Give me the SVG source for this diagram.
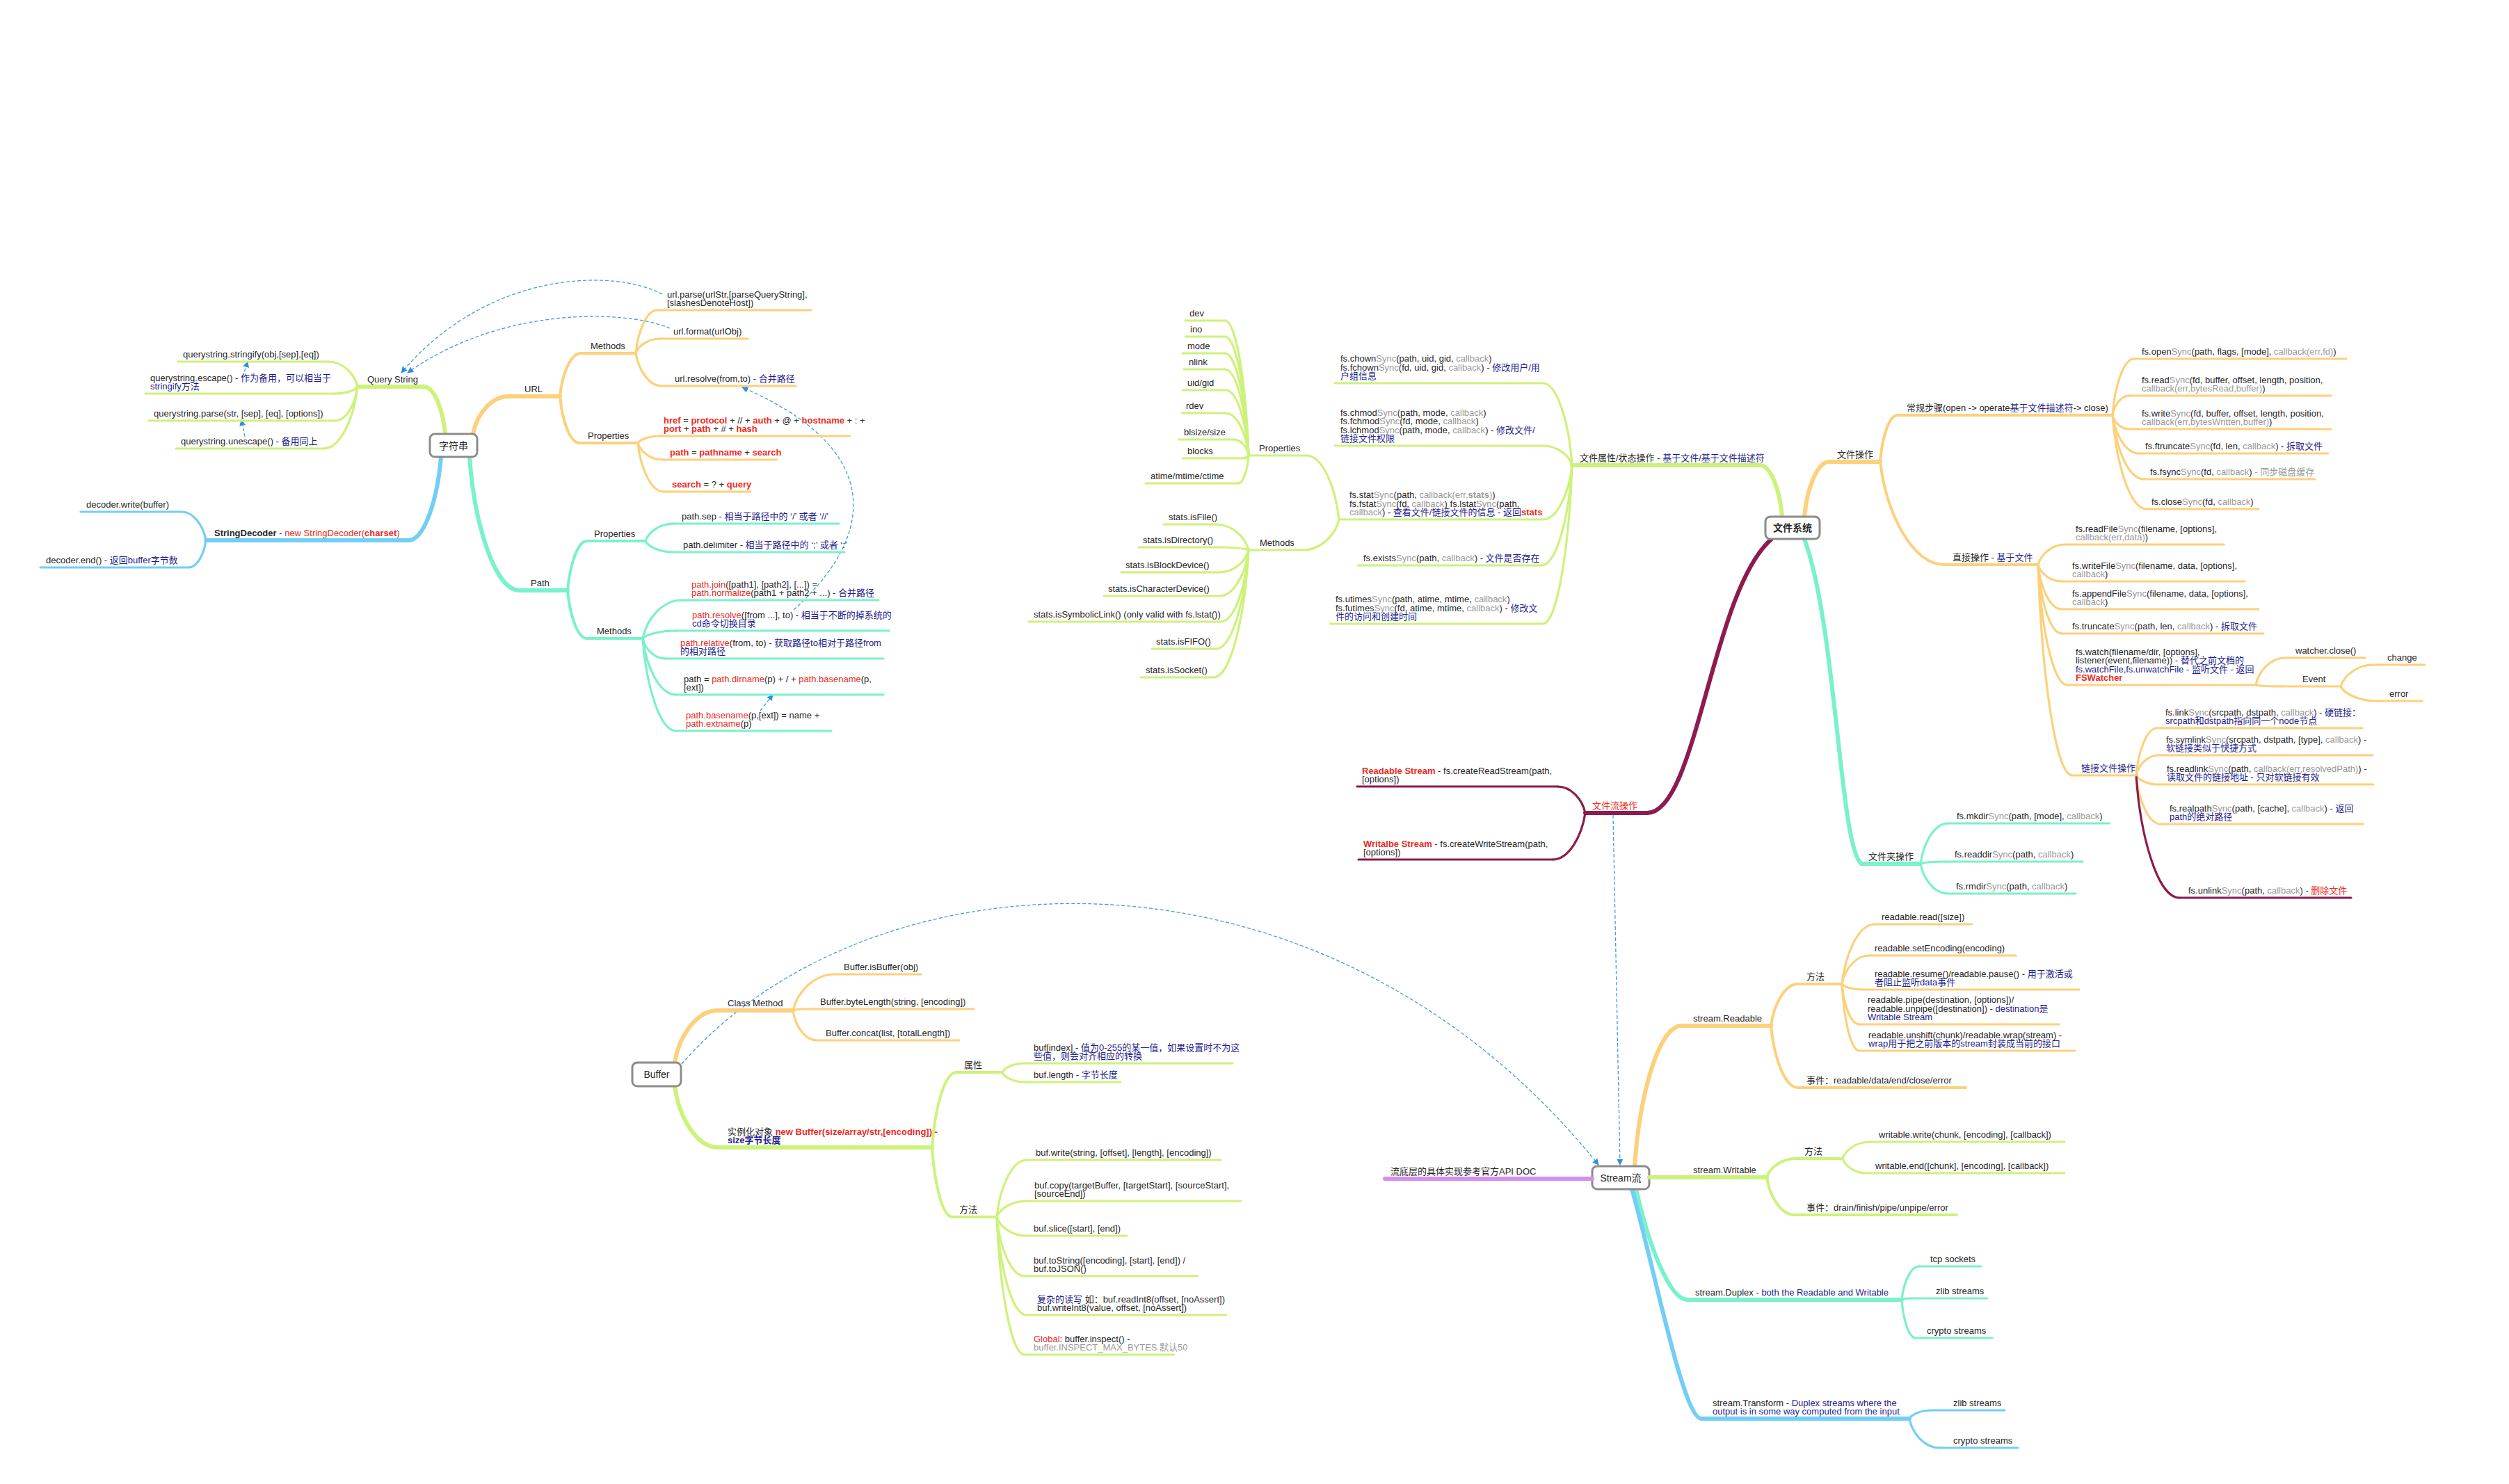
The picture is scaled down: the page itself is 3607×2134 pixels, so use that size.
<svg xmlns="http://www.w3.org/2000/svg" width="3607" height="2134" viewBox="0 0 3607 2134">
<style>
.t{font-family:"Liberation Sans","Noto Sans CJK SC",sans-serif;font-size:13px;fill:#262626}
.h{font-size:14px}
.n{fill:#1d1d8c}
.r{fill:#ee2a22}
.g{fill:#999}
.bd{font-weight:bold}
.ln{fill:none;stroke-linecap:round;stroke-linejoin:round}
.w1{stroke-width:6}
.w2{stroke-width:4}
.w3{stroke-width:3.2}
.gr{stroke:#cdf27a}
.or{stroke:#fdd07c}
.aq{stroke:#79f1cc}
.bl{stroke:#73cef5}
.mr{stroke:#8d1b4d}
.pu{stroke:#d48ff2}
.box{fill:#fff;stroke:#8c8c8c;stroke-width:3}
.ds{fill:none;stroke:#3d9be3;stroke-width:1.3;stroke-dasharray:5 3}
.ct{text-anchor:middle}
</style>
<defs>
<marker id="ar" viewBox="0 0 10 10" refX="9" refY="5" markerWidth="7" markerHeight="7" orient="auto"><path d="M0 0L10 5L0 10z" fill="#2f8fe0"/></marker>
</defs>
<rect width="3607" height="2134" fill="#fff"/>

<g id="connectors">
<!-- 字符串 -->
<path class="ln gr w1" d="M640 624 C637 590 624.5 556 609 556"/>
<path class="ln gr w3" d="M514 556 C510 538 493 520 472 520"/>
<path class="ln gr w3" d="M514 556 C511 561 498 566 482 566"/>
<path class="ln gr w3" d="M514 556 C511 580 498 605 482 605"/>
<path class="ln gr w3" d="M514 556 C509 600 490 645 465 645"/>
<path class="ln or w1" d="M680 624 C685 597 705.5 570 731 570"/>
<path class="ln or w2" d="M805 570 C808 539 820 508 835 508"/>
<path class="ln or w3" d="M914 508 C917 477 929.5 446 945 446"/>
<path class="ln or w3" d="M914 508 C917.5 497.5 931.5 487 949 487"/>
<path class="ln or w3" d="M914 508 C918 531.5 932.5 555 951 555"/>
<path class="ln or w2" d="M805 570 C808 603.5 819 637 833 637"/>
<path class="ln or w3" d="M917 637 C920 632 933.5 627 950 627"/>
<path class="ln or w3" d="M917 637 C920.5 649 934.5 661 952 661"/>
<path class="ln or w3" d="M917 637 C920.7 672 935.5 707 954 707"/>
<path class="ln bl w1" d="M634 657 C629 717 610.5 777 587 777"/>
<path class="ln bl w3" d="M296 777 C292.5 756.5 278.5 736 261 736"/>
<path class="ln bl w3" d="M296 777 C293.5 796.5 283.5 816 271 816"/>
<path class="ln aq w1" d="M675 657 C682 753 711 849 747 849"/>
<path class="ln aq w2" d="M816 849 C819 813.5 830 778 844 778"/>
<path class="ln aq w3" d="M928 778 C932 765.5 948 753 968 753"/>
<path class="ln aq w3" d="M928 778 C932 786 948 794 968 794"/>
<path class="ln aq w2" d="M816 849 C819 883.5 830 918 844 918"/>
<path class="ln aq w3" d="M924 918 C929.6 890.5 952 863 980 863"/>
<path class="ln aq w3" d="M924 918 C929 912.5 948 907 972 907"/>
<path class="ln aq w3" d="M924 918 C927 932.5 940 947 956 947"/>
<path class="ln aq w3" d="M924 918 C929 958.5 948 999 972 999"/>
<path class="ln aq w3" d="M924 918 C929 984.5 948 1051 972 1051"/>
<!-- 文件系统 -->
<path class="ln gr w1" d="M2562 743 C2559 706 2546 669 2530 669"/>
<path class="ln gr w3" d="M2260 669 C2256 610 2239 551 2218 551"/>
<path class="ln gr w3" d="M2260 669 C2256 655 2239 641 2218 641"/>
<path class="ln gr w3" d="M2260 669 C2256 708 2239 747 2218 747"/>
<path class="ln gr w3" d="M2260 669 C2256 741 2238 813 2216 813"/>
<path class="ln gr w3" d="M2260 669 C2256 783 2239 897 2218 897"/>
<path class="ln gr w3" d="M1925 747 C1920 701 1901.5 655 1878 655"/>
<path class="ln gr w3" d="M1795 655 C1791.6 558 1778 461 1761 461"/>
<path class="ln gr w3" d="M1795 655 C1791.6 569.5 1778 484 1761 484"/>
<path class="ln gr w3" d="M1795 655 C1791.6 581.5 1778 508 1761 508"/>
<path class="ln gr w3" d="M1795 655 C1791.6 593 1778 531 1761 531"/>
<path class="ln gr w3" d="M1795 655 C1792 608 1778.5 561 1762 561"/>
<path class="ln gr w3" d="M1795 655 C1792 624.5 1778.5 594 1762 594"/>
<path class="ln gr w3" d="M1795 655 C1793 643.5 1784.5 632 1774 632"/>
<path class="ln gr w3" d="M1795 655 C1794 657 1790 659 1785 659"/>
<path class="ln gr w3" d="M1795 655 C1793.5 675 1787.5 695 1780 695"/>
<path class="ln gr w3" d="M1925 747 C1920 769 1899 791 1873 791"/>
<path class="ln gr w3" d="M1795 791 C1790 772.5 1771.5 754 1748 754"/>
<path class="ln gr w3" d="M1795 791 C1791 789 1774 787 1753 787"/>
<path class="ln gr w3" d="M1795 791 C1791 807 1774 823 1753 823"/>
<path class="ln gr w3" d="M1795 791 C1791 824 1774 857 1753 857"/>
<path class="ln gr w3" d="M1795 791 C1791 842.5 1775 894 1755 894"/>
<path class="ln gr w3" d="M1795 791 C1790 862 1771.5 933 1748 933"/>
<path class="ln gr w3" d="M1795 791 C1790 882.5 1770 974 1745 974"/>
<path class="ln or w1" d="M2594 743 C2597.6 703.5 2612 664 2630 664"/>
<path class="ln or w2" d="M2703 664 C2705.5 630.5 2715.5 597 2728 597"/>
<path class="ln or w3" d="M3037 597 C3040 556.5 3052.5 516 3068 516"/>
<path class="ln or w3" d="M3037 597 C3039.4 583 3049 569 3061 569"/>
<path class="ln or w3" d="M3037 597 C3039.4 607 3049 617 3061 617"/>
<path class="ln or w3" d="M3037 597 C3041 624.5 3056 652 3075 652"/>
<path class="ln or w3" d="M3037 597 C3041.5 643 3059.5 689 3082 689"/>
<path class="ln or w3" d="M3037 597 C3042 664.5 3061.5 732 3086 732"/>
<path class="ln or w2" d="M2703 664 C2712 738 2749 812 2795 812"/>
<path class="ln or w3" d="M2930 812 C2934 797.5 2949.5 783 2969 783"/>
<path class="ln or w3" d="M2930 812 C2933 824 2947 836 2964 836"/>
<path class="ln or w3" d="M2930 812 C2933 844 2947 876 2964 876"/>
<path class="ln or w3" d="M2930 812 C2933 861.5 2947 911 2964 911"/>
<path class="ln or w3" d="M2930 812 C2934 898.5 2951 985 2972 985"/>
<path class="ln or w3" d="M3243 985 C3247 965.5 3264 946 3285 946"/>
<path class="ln or w3" d="M3243 985 C3247 986 3261.5 987 3280 987"/>
<path class="ln or w3" d="M3365 987 C3370 971.5 3388.5 956 3412 956"/>
<path class="ln or w3" d="M3365 987 C3370 997.5 3391 1008 3417 1008"/>
<path class="ln or w3" d="M2930 812 C2935 963.5 2954.5 1115 2979 1115"/>
<path class="ln or w3" d="M3071 1115 C3074 1081 3086 1047 3101 1047"/>
<path class="ln or w3" d="M3071 1115 C3074 1100.5 3087 1086 3103 1086"/>
<path class="ln or w3" d="M3071 1115 C3074 1121.5 3087 1128 3103 1128"/>
<path class="ln or w3" d="M3071 1115 C3074.5 1150 3088.5 1185 3106 1185"/>
<path class="ln mr w3" d="M3071 1115 C3077 1203 3102 1291 3133 1291"/>
<path class="ln aq w1" d="M2594 775 C2640 900 2645 1220 2676 1242"/>
<path class="ln aq w3" d="M2761 1242 C2765 1213 2780.5 1184 2800 1184"/>
<path class="ln aq w3" d="M2761 1242 C2765 1240.5 2780.5 1239 2800 1239"/>
<path class="ln aq w3" d="M2761 1242 C2765 1263.5 2780.5 1285 2800 1285"/>
<path class="ln mr w1" d="M2547 775 C2460 850 2440 1169 2368 1169"/>
<path class="ln mr w3" d="M2279 1169 C2275 1150 2259 1131 2239 1131"/>
<path class="ln mr w3" d="M2279 1169 C2274 1202.5 2255.5 1236 2232 1236"/>
<!-- Buffer -->
<path class="ln or w1" d="M970 1528 C976 1490.5 1001 1453 1032 1453"/>
<path class="ln or w3" d="M1140 1453 C1146 1427 1170 1401 1200 1401"/>
<path class="ln or w3" d="M1140 1453 C1142 1452 1150 1451 1160 1451"/>
<path class="ln or w3" d="M1140 1453 C1143 1474.5 1157 1496 1174 1496"/>
<path class="ln gr w1" d="M970 1562 C976 1606 1001 1650 1032 1650"/>
<path class="ln gr w2" d="M1340 1650 C1343.5 1596 1357.5 1542 1375 1542"/>
<path class="ln gr w3" d="M1441 1542 C1444 1535.5 1457 1529 1473 1529"/>
<path class="ln gr w3" d="M1441 1542 C1444 1549 1457 1556 1473 1556"/>
<path class="ln gr w2" d="M1340 1650 C1343 1700 1354.5 1750 1369 1750"/>
<path class="ln gr w3" d="M1433 1750 C1437 1709 1454.5 1668 1476 1668"/>
<path class="ln gr w3" d="M1433 1750 C1437 1738.5 1454.5 1727 1476 1727"/>
<path class="ln gr w3" d="M1433 1750 C1437 1763.5 1454.5 1777 1476 1777"/>
<path class="ln gr w3" d="M1433 1750 C1437 1792.5 1453 1835 1473 1835"/>
<path class="ln gr w3" d="M1433 1750 C1437 1820.5 1454.5 1891 1476 1891"/>
<path class="ln gr w3" d="M1433 1750 C1437 1849 1453 1948 1473 1948"/>
<!-- Stream -->
<path class="ln or w1" d="M2350 1677 C2357 1576 2384 1475 2418 1475"/>
<path class="ln or w2" d="M2546 1475 C2550 1445 2565.5 1415 2585 1415"/>
<path class="ln or w3" d="M2648 1415 C2653 1372 2671.5 1329 2695 1329"/>
<path class="ln or w3" d="M2648 1415 C2652 1394.5 2667.5 1374 2687 1374"/>
<path class="ln or w3" d="M2648 1415 C2651 1419 2662.5 1423 2677 1423"/>
<path class="ln or w3" d="M2648 1415 C2650.5 1444 2660.5 1473 2673 1473"/>
<path class="ln or w3" d="M2648 1415 C2650.5 1463 2660.5 1511 2673 1511"/>
<path class="ln or w2" d="M2546 1475 C2550 1519.5 2565.5 1564 2585 1564"/>
<path class="ln gr w2" d="M2540 1693 C2544 1679.5 2561 1666 2582 1666"/>
<path class="ln gr w3" d="M2649 1666 C2653 1654 2668.5 1642 2688 1642"/>
<path class="ln gr w3" d="M2649 1666 C2652.4 1676.5 2666 1687 2683 1687"/>
<path class="ln gr w2" d="M2540 1693 C2544 1720 2560 1747 2580 1747"/>
<path class="ln aq w1" d="M2352 1710 C2370 1790 2400 1869 2426 1869"/>
<path class="ln aq w3" d="M2734 1869 C2736.5 1845 2746.5 1821 2759 1821"/>
<path class="ln aq w3" d="M2734 1869 C2735 1868 2740 1867 2745 1867"/>
<path class="ln aq w3" d="M2734 1869 C2736 1896.5 2744 1924 2754 1924"/>
<path class="ln bl w1" d="M2346 1710 C2380 1830 2420 2040 2446 2040"/>
<path class="ln bl w3" d="M2745 2040 C2748 2034 2761 2028 2777 2028"/>
<path class="ln bl w3" d="M2745 2040 C2749 2061 2766.5 2082 2788 2082"/>
<!-- dashed relations -->
<path class="ds" marker-end="url(#ar)" d="M952 423 C880 385 700 390 577 536"/>
<path class="ds" marker-end="url(#ar)" d="M963 472 C900 445 720 440 586 536"/>
<path class="ds" marker-end="url(#ar)" d="M349 542 L356 520"/>
<path class="ds" marker-end="url(#ar)" d="M352 628 L347 604"/>
<path class="ds" marker-end="url(#ar)" d="M1141 877 C1270 760 1260 640 1067 557"/>
<path class="ds" marker-end="url(#ar)" d="M1093 1022 L1111 999"/>
<path class="ds" marker-end="url(#ar)" d="M2319 1172 L2329 1675"/>
<path class="ds" marker-end="url(#ar)" d="M980 1530 C1250 1220 1900 1180 2298 1675"/>
</g>

<!-- ===== 字符串 ===== -->
<g id="n-zifuchuan"><rect class="box" x="618" y="624" width="68" height="33" rx="7"/><text class="t h ct" x="652" y="646">字符串</text></g>
<g id="n-querystring"><path class="ln gr w1" d="M609 556 H514"/><text class="t" x="528" y="550">Query String</text></g>
<g id="n-qs-stringify"><path class="ln gr w3" d="M472 520 H256"/><text class="t" x="263" y="514">querystring.stringify(obj,[sep],[eq])</text></g>
<g id="n-qs-escape"><path class="ln gr w3" d="M482 566 H209"/><text class="t" x="216" y="547.5">querystring.escape() - <tspan class="n">作为备用，可以相当于</tspan><tspan class="n" x="216" y="560">stringify方法</tspan></text></g>
<g id="n-qs-parse"><path class="ln gr w3" d="M482 605 H214"/><text class="t" x="221" y="599">querystring.parse(str, [sep], [eq], [options])</text></g>
<g id="n-qs-unescape"><path class="ln gr w3" d="M465 645 H253"/><text class="t" x="260" y="639">querystring.unescape() - <tspan class="n">备用同上</tspan></text></g>
<g id="n-url"><path class="ln or w1" d="M731 570 H805"/><text class="t" x="754" y="564">URL</text></g>
<g id="n-url-methods"><path class="ln or w2" d="M835 508 H914"/><text class="t" x="849" y="502">Methods</text></g>
<g id="n-url-parse"><path class="ln or w3" d="M945 446 H1166"/><text class="t" x="959" y="427.5">url.parse(urlStr,[parseQueryString],<tspan x="959" y="440">[slashesDenoteHost])</tspan></text></g>
<g id="n-url-format"><path class="ln or w3" d="M949 487 H1075"/><text class="t" x="968" y="481">url.format(urlObj)</text></g>
<g id="n-url-resolve"><path class="ln or w3" d="M951 555 H1144"/><text class="t" x="970" y="549">url.resolve(from,to) - <tspan class="n">合并路径</tspan></text></g>
<g id="n-url-props"><path class="ln or w2" d="M833 637 H917"/><text class="t" x="845" y="631">Properties</text></g>
<g id="n-href"><path class="ln or w3" d="M950 627 H1222"/><text class="t" x="954" y="608.5"><tspan class="r bd">href</tspan> = <tspan class="r bd">protocol</tspan> + // + <tspan class="r bd">auth</tspan> + @ + <tspan class="r bd">hostname</tspan> + : +<tspan x="954" y="621"><tspan class="r bd">port</tspan> + <tspan class="r bd">path</tspan> + # + <tspan class="r bd">hash</tspan></tspan></text></g>
<g id="n-path-eq"><path class="ln or w3" d="M952 661 H1117"/><text class="t" x="963" y="655"><tspan class="r bd">path</tspan> = <tspan class="r bd">pathname</tspan> + <tspan class="r bd">search</tspan></text></g>
<g id="n-search"><path class="ln or w3" d="M954 707 H1079"/><text class="t" x="966" y="701"><tspan class="r bd">search</tspan> = ? + <tspan class="r bd">query</tspan></text></g>
<g id="n-stringdecoder"><path class="ln bl w1" d="M587 777 H296"/><text class="t" x="308" y="771"><tspan class="bd">StringDecoder</tspan> - <tspan class="r">new StringDecoder(</tspan><tspan class="r bd">charset</tspan><tspan class="r">)</tspan></text></g>
<g id="n-decoder-write"><path class="ln bl w3" d="M261 736 H116"/><text class="t" x="124" y="730">decoder.write(buffer)</text></g>
<g id="n-decoder-end"><path class="ln bl w3" d="M271 816 H58"/><text class="t" x="66" y="810">decoder.end() - <tspan class="n">返回buffer字节数</tspan></text></g>
<g id="n-path"><path class="ln aq w1" d="M747 849 H816"/><text class="t" x="763" y="843">Path</text></g>
<g id="n-path-props"><path class="ln aq w2" d="M844 778 H928"/><text class="t" x="854" y="772">Properties</text></g>
<g id="n-path-sep"><path class="ln aq w3" d="M968 753 H1206"/><text class="t" x="980" y="747">path.sep - <tspan class="n">相当于路径中的 ‘/’ 或者 ‘//’</tspan></text></g>
<g id="n-path-delim"><path class="ln aq w3" d="M968 794 H1214"/><text class="t" x="982" y="788">path.delimiter - <tspan class="n">相当于路径中的 ‘;’ 或者 ‘:’</tspan></text></g>
<g id="n-path-methods"><path class="ln aq w2" d="M844 918 H924"/><text class="t" x="858" y="912">Methods</text></g>
<g id="n-path-join"><path class="ln aq w3" d="M980 863 H1263"/><text class="t" x="994" y="844.5"><tspan class="r">path.join</tspan>([path1], [path2], [...]) =<tspan x="994" y="857"><tspan class="r">path.normalize</tspan>(path1 + path2 + ...) - <tspan class="n">合并路径</tspan></tspan></text></g>
<g id="n-path-resolve"><path class="ln aq w3" d="M972 907 H1278"/><text class="t" x="995" y="888.5"><tspan class="r">path.resolve</tspan>([from ...], to) - <tspan class="n">相当于不断的掉系统的</tspan><tspan class="n" x="995" y="901">cd命令切换目录</tspan></text></g>
<g id="n-path-relative"><path class="ln aq w3" d="M956 947 H1270"/><text class="t" x="978" y="928.5"><tspan class="r">path.relative</tspan>(from, to) - <tspan class="n">获取路径to相对于路径from</tspan><tspan class="n" x="978" y="941">的相对路径</tspan></text></g>
<g id="n-path-dirname"><path class="ln aq w3" d="M972 999 H1270"/><text class="t" x="983" y="980.5">path = <tspan class="r">path.dirname</tspan>(p) + / + <tspan class="r">path.basename</tspan>(p,<tspan x="983" y="993">[ext])</tspan></text></g>
<g id="n-path-basename"><path class="ln aq w3" d="M972 1051 H1195"/><text class="t" x="986" y="1032.5"><tspan class="r">path.basename</tspan>(p,[ext]) = name +<tspan x="986" y="1045"><tspan class="r">path.extname</tspan>(p)</tspan></text></g>

<!-- ===== 文件系统 ===== -->
<g id="n-fs"><rect class="box" x="2538" y="743" width="78" height="32" rx="7"/><text class="t h ct bd" x="2577" y="764">文件系统</text></g>
<g id="n-fs-attr"><path class="ln gr w1" d="M2530 669 H2260"/><text class="t" x="2271" y="663">文件属性/状态操作 - <tspan class="n">基于文件/基于文件描述符</tspan></text></g>
<g id="n-chown"><path class="ln gr w3" d="M2218 551 H1919"/><text class="t" x="1927" y="520">fs.chown<tspan class="g">Sync</tspan>(path, uid, gid, <tspan class="g">callback</tspan>)<tspan x="1927" y="532.5">fs.fchown<tspan class="g">Sync</tspan>(fd, uid, gid, <tspan class="g">callback</tspan>) - <tspan class="n">修改用户/用</tspan></tspan><tspan class="n" x="1927" y="545">户组信息</tspan></text></g>
<g id="n-chmod"><path class="ln gr w3" d="M2218 641 H1919"/><text class="t" x="1927" y="597.5">fs.chmod<tspan class="g">Sync</tspan>(path, mode, <tspan class="g">callback</tspan>)<tspan x="1927" y="610">fs.fchmod<tspan class="g">Sync</tspan>(fd, mode, <tspan class="g">callback</tspan>)</tspan><tspan x="1927" y="622.5">fs.lchmod<tspan class="g">Sync</tspan>(path, mode, <tspan class="g">callback</tspan>) - <tspan class="n">修改文件/</tspan></tspan><tspan class="n" x="1927" y="635">链接文件权限</tspan></text></g>
<g id="n-stat"><path class="ln gr w3" d="M2218 747 H1925"/><text class="t" x="1940" y="716">fs.stat<tspan class="g">Sync</tspan>(path, <tspan class="g">callback(err,</tspan><tspan class="g bd">stats</tspan><tspan class="g">)</tspan>)<tspan x="1940" y="728.5">fs.fstat<tspan class="g">Sync</tspan>(fd, <tspan class="g">callback</tspan>) fs.lstat<tspan class="g">Sync</tspan>(path,</tspan><tspan x="1940" y="741"><tspan class="g">callback</tspan>) - <tspan class="n">查看文件/链接文件的信息 - 返回</tspan><tspan class="r bd">stats</tspan></tspan></text></g>
<g id="n-exists"><path class="ln gr w3" d="M2216 813 H1952"/><text class="t" x="1960" y="807">fs.exists<tspan class="g">Sync</tspan>(path, <tspan class="g">callback</tspan>) - <tspan class="n">文件是否存在</tspan></text></g>
<g id="n-utimes"><path class="ln gr w3" d="M2218 897 H1912"/><text class="t" x="1920" y="866">fs.utimes<tspan class="g">Sync</tspan>(path, atime, mtime, <tspan class="g">callback</tspan>)<tspan x="1920" y="878.5">fs.futimes<tspan class="g">Sync</tspan>(fd, atime, mtime, <tspan class="g">callback</tspan>) - <tspan class="n">修改文</tspan></tspan><tspan class="n" x="1920" y="891">件的访问和创建时间</tspan></text></g>
<g id="n-stat-props"><path class="ln gr w3" d="M1878 655 H1795"/><text class="t" x="1810" y="649">Properties</text></g>
<g id="n-dev"><path class="ln gr w3" d="M1761 461 H1704"/><text class="t" x="1710" y="455">dev</text></g>
<g id="n-ino"><path class="ln gr w3" d="M1761 484 H1704"/><text class="t" x="1711" y="478">ino</text></g>
<g id="n-mode"><path class="ln gr w3" d="M1761 508 H1700"/><text class="t" x="1707" y="502">mode</text></g>
<g id="n-nlink"><path class="ln gr w3" d="M1761 531 H1702"/><text class="t" x="1709" y="525">nlink</text></g>
<g id="n-uidgid"><path class="ln gr w3" d="M1762 561 H1700"/><text class="t" x="1707" y="555">uid/gid</text></g>
<g id="n-rdev"><path class="ln gr w3" d="M1762 594 H1699"/><text class="t" x="1705" y="588">rdev</text></g>
<g id="n-blsize"><path class="ln gr w3" d="M1774 632 H1695"/><text class="t" x="1702" y="626">blsize/size</text></g>
<g id="n-blocks"><path class="ln gr w3" d="M1785 659 H1700"/><text class="t" x="1707" y="653">blocks</text></g>
<g id="n-atime"><path class="ln gr w3" d="M1780 695 H1647"/><text class="t" x="1654" y="689">atime/mtime/ctime</text></g>
<g id="n-stat-methods"><path class="ln gr w3" d="M1873 791 H1795"/><text class="t" x="1811" y="785">Methods</text></g>
<g id="n-isfile"><path class="ln gr w3" d="M1748 754 H1673"/><text class="t" x="1680" y="748">stats.isFile()</text></g>
<g id="n-isdir"><path class="ln gr w3" d="M1753 787 H1637"/><text class="t" x="1643" y="781">stats.isDirectory()</text></g>
<g id="n-isblock"><path class="ln gr w3" d="M1753 823 H1612"/><text class="t" x="1618" y="817">stats.isBlockDevice()</text></g>
<g id="n-ischar"><path class="ln gr w3" d="M1753 857 H1587"/><text class="t" x="1593" y="851">stats.isCharacterDevice()</text></g>
<g id="n-issym"><path class="ln gr w3" d="M1755 894 H1479"/><text class="t" x="1486" y="888">stats.isSymbolicLink() (only valid with fs.lstat())</text></g>
<g id="n-isfifo"><path class="ln gr w3" d="M1748 933 H1656"/><text class="t" x="1662" y="927">stats.isFIFO()</text></g>
<g id="n-issocket"><path class="ln gr w3" d="M1745 974 H1640"/><text class="t" x="1647" y="968">stats.isSocket()</text></g>
<g id="n-fileops"><path class="ln or w1" d="M2630 664 H2703"/><text class="t" x="2641" y="658">文件操作</text></g>
<g id="n-steps"><path class="ln or w2" d="M2728 597 H3037"/><text class="t" x="2741" y="591">常规步骤(open -&gt; operate<tspan class="n">基于文件描述符</tspan>-&gt; close)</text></g>
<g id="n-open"><path class="ln or w3" d="M3068 516 H3373"/><text class="t" x="3079" y="510">fs.open<tspan class="g">Sync</tspan>(path, flags, [mode], <tspan class="g">callback(err,fd)</tspan>)</text></g>
<g id="n-read"><path class="ln or w3" d="M3061 569 H3351"/><text class="t" x="3079" y="550.5">fs.read<tspan class="g">Sync</tspan>(fd, buffer, offset, length, position,<tspan x="3079" y="563"><tspan class="g">callback(err,bytesRead,buffer)</tspan>)</tspan></text></g>
<g id="n-write"><path class="ln or w3" d="M3061 617 H3351"/><text class="t" x="3079" y="598.5">fs.write<tspan class="g">Sync</tspan>(fd, buffer, offset, length, position,<tspan x="3079" y="611"><tspan class="g">callback(err,bytesWritten,buffer)</tspan>)</tspan></text></g>
<g id="n-ftruncate"><path class="ln or w3" d="M3075 652 H3347"/><text class="t" x="3084" y="646">fs.ftruncate<tspan class="g">Sync</tspan>(fd, len, <tspan class="g">callback</tspan>) - <tspan class="n">拆取文件</tspan></text></g>
<g id="n-fsync"><path class="ln or w3" d="M3082 689 H3328"/><text class="t" x="3091" y="683">fs.fsync<tspan class="g">Sync</tspan>(fd, <tspan class="g">callback</tspan>)<tspan class="g"> - 同步磁盘缓存</tspan></text></g>
<g id="n-close"><path class="ln or w3" d="M3086 732 H3247"/><text class="t" x="3093" y="726">fs.close<tspan class="g">Sync</tspan>(fd, <tspan class="g">callback</tspan>)</text></g>
<g id="n-direct"><path class="ln or w2" d="M2795 812 H2930"/><text class="t" x="2807" y="806">直接操作 - <tspan class="n">基于文件</tspan></text></g>
<g id="n-readfile"><path class="ln or w3" d="M2969 783 H3197"/><text class="t" x="2984" y="764.5">fs.readFile<tspan class="g">Sync</tspan>(filename, [options],<tspan x="2984" y="777"><tspan class="g">callback(err,data)</tspan>)</tspan></text></g>
<g id="n-writefile"><path class="ln or w3" d="M2964 836 H3227"/><text class="t" x="2979" y="817.5">fs.writeFile<tspan class="g">Sync</tspan>(filename, data, [options],<tspan x="2979" y="830"><tspan class="g">callback</tspan>)</tspan></text></g>
<g id="n-appendfile"><path class="ln or w3" d="M2964 876 H3247"/><text class="t" x="2979" y="857.5">fs.appendFile<tspan class="g">Sync</tspan>(filename, data, [options],<tspan x="2979" y="870"><tspan class="g">callback</tspan>)</tspan></text></g>
<g id="n-truncate"><path class="ln or w3" d="M2964 911 H3254"/><text class="t" x="2979" y="905">fs.truncate<tspan class="g">Sync</tspan>(path, len, <tspan class="g">callback</tspan>) - <tspan class="n">拆取文件</tspan></text></g>
<g id="n-watch"><path class="ln or w3" d="M2972 985 H3243"/><text class="t" x="2984" y="941.5">fs.watch(filename/dir, [options],<tspan x="2984" y="954">listener(event,filename)) - <tspan class="n">替代之前文档的</tspan></tspan><tspan class="n" x="2984" y="966.5">fs.watchFile,fs.unwatchFile - 监听文件 - 返回</tspan><tspan class="r bd" x="2984" y="979">FSWatcher</tspan></text></g>
<g id="n-watcher-close"><path class="ln or w3" d="M3285 946 H3400"/><text class="t" x="3300" y="940">watcher.close()</text></g>
<g id="n-event"><path class="ln or w3" d="M3280 987 H3365"/><text class="t" x="3310" y="981">Event</text></g>
<g id="n-change"><path class="ln or w3" d="M3412 956 H3486"/><text class="t" x="3432" y="950">change</text></g>
<g id="n-error"><path class="ln or w3" d="M3417 1008 H3482"/><text class="t" x="3435" y="1002">error</text></g>
<g id="n-linkops"><path class="ln or w3" d="M2979 1115 H3071"/><text class="t n" x="2992" y="1109">链接文件操作</text></g>
<g id="n-link"><path class="ln or w3" d="M3101 1047 H3396"/><text class="t" x="3113" y="1028.5">fs.link<tspan class="g">Sync</tspan>(srcpath, dstpath, <tspan class="g">callback</tspan>) - <tspan class="n">硬链接：</tspan><tspan class="n" x="3113" y="1041">srcpath和dstpath指向同一个node节点</tspan></text></g>
<g id="n-symlink"><path class="ln or w3" d="M3103 1086 H3411"/><text class="t" x="3114" y="1067.5">fs.symlink<tspan class="g">Sync</tspan>(srcpath, dstpath, [type], <tspan class="g">callback</tspan>) -<tspan class="n" x="3114" y="1080">软链接类似于快捷方式</tspan></text></g>
<g id="n-readlink"><path class="ln or w3" d="M3103 1128 H3412"/><text class="t" x="3115" y="1109.5">fs.readlink<tspan class="g">Sync</tspan>(path, <tspan class="g">callback(err,resolvedPath)</tspan>) -<tspan class="n" x="3115" y="1122">读取文件的链接地址 - 只对软链接有效</tspan></text></g>
<g id="n-realpath"><path class="ln or w3" d="M3106 1185 H3397"/><text class="t" x="3119" y="1166.5">fs.realpath<tspan class="g">Sync</tspan>(path, [cache], <tspan class="g">callback</tspan>) - <tspan class="n">返回</tspan><tspan class="n" x="3119" y="1179">path的绝对路径</tspan></text></g>
<g id="n-unlink"><path class="ln mr w3" d="M3133 1291 H3380"/><text class="t" x="3146" y="1285">fs.unlink<tspan class="g">Sync</tspan>(path, <tspan class="g">callback</tspan>) - <tspan class="r">删除文件</tspan></text></g>
<g id="n-dirops"><path class="ln aq w1" d="M2676 1242 H2761"/><text class="t" x="2686" y="1236">文件夹操作</text></g>
<g id="n-mkdir"><path class="ln aq w3" d="M2800 1184 H3032"/><text class="t" x="2813" y="1178">fs.mkdir<tspan class="g">Sync</tspan>(path, [mode], <tspan class="g">callback</tspan>)</text></g>
<g id="n-readdir"><path class="ln aq w3" d="M2800 1239 H2994"/><text class="t" x="2810" y="1233">fs.readdir<tspan class="g">Sync</tspan>(path, <tspan class="g">callback</tspan>)</text></g>
<g id="n-rmdir"><path class="ln aq w3" d="M2800 1285 H2984"/><text class="t" x="2812" y="1279">fs.rmdir<tspan class="g">Sync</tspan>(path, <tspan class="g">callback</tspan>)</text></g>
<g id="n-streamops"><path class="ln mr w1" d="M2368 1169 H2279"/><text class="t r" x="2289" y="1163">文件流操作</text></g>
<g id="n-readstream"><path class="ln mr w3" d="M2239 1131 H1951"/><text class="t" x="1958" y="1112.5"><tspan class="r bd">Readable Stream</tspan> - fs.createReadStream(path,<tspan x="1958" y="1125">[options])</tspan></text></g>
<g id="n-writestream"><path class="ln mr w3" d="M2232 1236 H1953"/><text class="t" x="1960" y="1217.5"><tspan class="r bd">Writalbe Stream</tspan> - fs.createWriteStream(path,<tspan x="1960" y="1230">[options])</tspan></text></g>

<!-- ===== Buffer ===== -->
<g id="n-buffer"><rect class="box" x="909" y="1528" width="70" height="34" rx="7"/><text class="t h ct" x="944" y="1550">Buffer</text></g>
<g id="n-classmethod"><path class="ln or w1" d="M1032 1453 H1140"/><text class="t" x="1046" y="1447">Class Method</text></g>
<g id="n-isbuffer"><path class="ln or w3" d="M1200 1401 H1324"/><text class="t" x="1213" y="1395">Buffer.isBuffer(obj)</text></g>
<g id="n-bytelength"><path class="ln or w3" d="M1160 1451 H1400"/><text class="t" x="1179" y="1445">Buffer.byteLength(string, [encoding])</text></g>
<g id="n-concat"><path class="ln or w3" d="M1174 1496 H1379"/><text class="t" x="1187" y="1490">Buffer.concat(list, [totalLength])</text></g>
<g id="n-newbuffer"><path class="ln gr w1" d="M1032 1650 H1340"/><text class="t" x="1046" y="1631.5">实例化对象 <tspan class="r bd">new Buffer(size/array/str,[encoding]) -</tspan><tspan class="n bd" x="1046" y="1644">size字节长度</tspan></text></g>
<g id="n-buf-props"><path class="ln gr w2" d="M1375 1542 H1441"/><text class="t" x="1386" y="1536">属性</text></g>
<g id="n-buf-index"><path class="ln gr w3" d="M1473 1529 H1772"/><text class="t" x="1486" y="1510.5">buf[index] - <tspan class="n">值为0-255的某一值，如果设置时不为这</tspan><tspan class="n" x="1486" y="1523">些值，则会对齐相应的转换</tspan></text></g>
<g id="n-buf-length"><path class="ln gr w3" d="M1473 1556 H1611"/><text class="t" x="1486" y="1550">buf.length - <tspan class="n">字节长度</tspan></text></g>
<g id="n-buf-methods"><path class="ln gr w2" d="M1369 1750 H1433"/><text class="t" x="1379" y="1744">方法</text></g>
<g id="n-buf-write"><path class="ln gr w3" d="M1476 1668 H1755"/><text class="t" x="1489" y="1662">buf.write(string, [offset], [length], [encoding])</text></g>
<g id="n-buf-copy"><path class="ln gr w3" d="M1476 1727 H1784"/><text class="t" x="1487" y="1708.5">buf.copy(targetBuffer, [targetStart], [sourceStart],<tspan x="1487" y="1721">[sourceEnd])</tspan></text></g>
<g id="n-buf-slice"><path class="ln gr w3" d="M1476 1777 H1620"/><text class="t" x="1486" y="1771">buf.slice([start], [end])</text></g>
<g id="n-buf-tostring"><path class="ln gr w3" d="M1473 1835 H1722"/><text class="t" x="1486" y="1816.5">buf.toString([encoding], [start], [end]) /<tspan x="1486" y="1829">buf.toJSON()</tspan></text></g>
<g id="n-buf-readint"><path class="ln gr w3" d="M1476 1891 H1763"/><text class="t" x="1491" y="1872.5"><tspan class="n">复杂的读写</tspan> 如：buf.readInt8(offset, [noAssert])<tspan x="1491" y="1885">buf.writeInt8(value, offset, [noAssert])</tspan></text></g>
<g id="n-buf-global"><path class="ln gr w3" d="M1473 1948 H1688"/><text class="t" x="1486" y="1929.5"><tspan class="r">Global</tspan>: buffer.inspect() -<tspan class="g" x="1486" y="1942">buffer.INSPECT_MAX_BYTES 默认50</tspan></text></g>

<!-- ===== Stream ===== -->
<g id="n-stream"><rect class="box" x="2289" y="1677" width="82" height="33" rx="7"/><text class="t h ct" x="2330" y="1699">Stream流</text></g>
<g id="n-stream-doc"><path class="ln pu w1" d="M2289 1695 H1991"/><text class="t" x="1999" y="1689">流底层的具体实现参考官方API DOC</text></g>
<g id="n-readable"><path class="ln or w1" d="M2418 1475 H2546"/><text class="t" x="2434" y="1469">stream.Readable</text></g>
<g id="n-readable-methods"><path class="ln or w2" d="M2585 1415 H2648"/><text class="t" x="2597" y="1409">方法</text></g>
<g id="n-r-read"><path class="ln or w3" d="M2695 1329 H2835"/><text class="t" x="2705" y="1323">readable.read([size])</text></g>
<g id="n-r-setenc"><path class="ln or w3" d="M2687 1374 H2898"/><text class="t" x="2695" y="1368">readable.setEncoding(encoding)</text></g>
<g id="n-r-resume"><path class="ln or w3" d="M2677 1423 H2989"/><text class="t" x="2695" y="1404.5">readable.resume()/readable.pause() - <tspan class="n">用于激活或</tspan><tspan class="n" x="2695" y="1417">者阻止监听data事件</tspan></text></g>
<g id="n-r-pipe"><path class="ln or w3" d="M2673 1473 H2960"/><text class="t" x="2685" y="1442">readable.pipe(destination, [options])/<tspan x="2685" y="1454.5">readable.unpipe([destination]) - <tspan class="n">destination是</tspan></tspan><tspan class="n" x="2685" y="1467">Writable Stream</tspan></text></g>
<g id="n-r-unshift"><path class="ln or w3" d="M2673 1511 H2983"/><text class="t" x="2686" y="1492.5">readable.unshift(chunk)/readable.wrap(stream) -<tspan class="n" x="2686" y="1505">wrap用于把之前版本的stream封装成当前的接口</tspan></text></g>
<g id="n-r-events"><path class="ln or w2" d="M2585 1564 H2826"/><text class="t" x="2597" y="1558">事件：readable/data/end/close/error</text></g>
<g id="n-writable"><path class="ln gr w1" d="M2371 1693 H2540"/><text class="t" x="2434" y="1687">stream.Writable</text></g>
<g id="n-writable-methods"><path class="ln gr w2" d="M2582 1666 H2649"/><text class="t" x="2594" y="1660">方法</text></g>
<g id="n-w-write"><path class="ln gr w3" d="M2688 1642 H2968"/><text class="t" x="2701" y="1636">writable.write(chunk, [encoding], [callback])</text></g>
<g id="n-w-end"><path class="ln gr w3" d="M2683 1687 H2968"/><text class="t" x="2696" y="1681">writable.end([chunk], [encoding], [callback])</text></g>
<g id="n-w-events"><path class="ln gr w2" d="M2580 1747 H2813"/><text class="t" x="2597" y="1741">事件：drain/finish/pipe/unpipe/error</text></g>
<g id="n-duplex"><path class="ln aq w1" d="M2426 1869 H2734"/><text class="t" x="2437" y="1863">stream.Duplex - <tspan class="n">both the Readable and Writable</tspan></text></g>
<g id="n-d-tcp"><path class="ln aq w3" d="M2759 1821 H2848"/><text class="t" x="2775" y="1815">tcp sockets</text></g>
<g id="n-d-zlib"><path class="ln aq w3" d="M2745 1867 H2857"/><text class="t" x="2783" y="1861">zlib streams</text></g>
<g id="n-d-crypto"><path class="ln aq w3" d="M2754 1924 H2864"/><text class="t" x="2770" y="1918">crypto streams</text></g>
<g id="n-transform"><path class="ln bl w1" d="M2446 2040 H2745"/><text class="t" x="2462" y="2021.5">stream.Transform - <tspan class="n">Duplex streams where the</tspan><tspan class="n" x="2462" y="2034">output is in some way computed from the input</tspan></text></g>
<g id="n-t-zlib"><path class="ln bl w3" d="M2777 2028 H2882"/><text class="t" x="2808" y="2022">zlib streams</text></g>
<g id="n-t-crypto"><path class="ln bl w3" d="M2788 2082 H2901"/><text class="t" x="2808" y="2076">crypto streams</text></g>
</svg>
